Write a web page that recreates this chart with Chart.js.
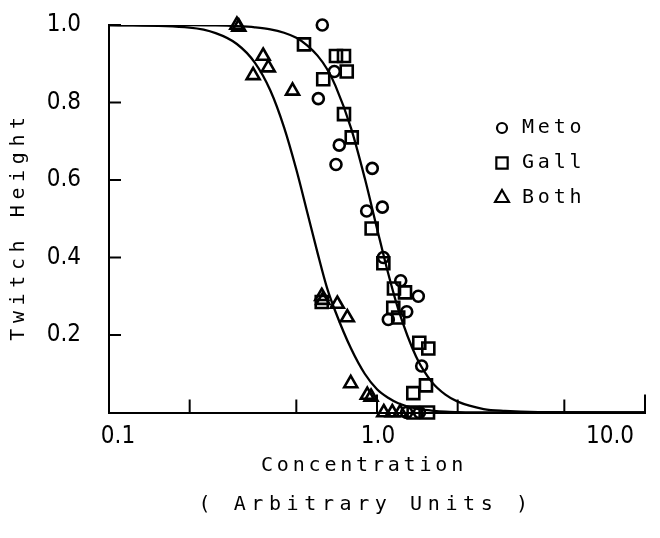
<!DOCTYPE html>
<html>
<head>
<meta charset="utf-8">
<script src="https://cdn.jsdelivr.net/npm/chart.js@4.4.0/dist/chart.umd.min.js"></script>
<style>
  html, body { margin: 0; padding: 0; background: #fff; }
</style>
</head>
<body>
<canvas id="chart" width="660" height="538"></canvas>
<script>
// Meto (circles)
const metoX = [0.625, 0.693, 0.604, 0.723, 0.703, 0.960, 0.915, 1.047, 1.056, 1.226, 1.426, 1.291, 1.102, 1.468, 1.29, 1.44];
const metoY = [1.00, 0.88, 0.81, 0.69, 0.64, 0.63, 0.52, 0.53, 0.40, 0.34, 0.30, 0.26, 0.24, 0.12, 0.0, 0.0];

// Gall (squares)
const gallX = [0.534, 0.703, 0.753, 0.771, 0.630, 0.753, 0.805, 0.955, 1.056, 1.157, 1.272, 1.15, 1.20, 1.438, 1.554, 1.523, 1.366, 0.622, 1.37, 1.55];
const gallY = [0.95, 0.92, 0.92, 0.88, 0.86, 0.77, 0.71, 0.475, 0.385, 0.32, 0.31, 0.27, 0.245, 0.18, 0.165, 0.07, 0.05, 0.285, 0.0, 0.0];

// Both (triangles)
const bothX = [0.30, 0.305, 0.376, 0.393, 0.345, 0.484, 0.622, 0.628, 0.711, 0.775, 0.798, 0.92, 0.95, 1.06, 1.14, 1.22];
const bothY = [1.0, 0.995, 0.92, 0.89, 0.87, 0.83, 0.30, 0.29, 0.28, 0.245, 0.075, 0.045, 0.04, 0.0, 0.0, 0.0];

// fitted curves
const curveX = [0.1, 0.2, 0.25, 0.3, 0.35, 0.4, 0.45, 0.5, 0.55, 0.6, 0.65, 0.7, 0.8, 0.9, 1.0, 1.1, 1.2, 1.4, 1.6, 1.8, 2.0, 2.5, 3, 4, 10];
const bothCurveY = [1.0, 0.993, 0.979, 0.951, 0.903, 0.831, 0.736, 0.627, 0.515, 0.412, 0.323, 0.26, 0.165, 0.10, 0.06, 0.038, 0.024, 0.01, 0.005, 0.002, 0.001, 0, 0, 0, 0];
const singleCurveY = [1.0, 1.0, 0.999, 0.997, 0.994, 0.989, 0.980, 0.967, 0.947, 0.921, 0.887, 0.843, 0.734, 0.605, 0.475, 0.360, 0.267, 0.144, 0.079, 0.046, 0.028, 0.009, 0.004, 0.001, 0];

// axis ticks
const xTickMarks = [0.2, 0.5, 1, 2, 5, 10];
const xTickLabels = ['0.1', '1.0', '10.0'];
const xTickLabelValues = [0.1, 1, 10];
const yTickValues = [0.2, 0.4, 0.6, 0.8, 1.0];
const yTickLabels = ['0.2', '0.4', '0.6', '0.8', '1.0'];

const legendNames = ['Meto', 'Gall', 'Both'];
const legendStyles = ['circle', 'rect', 'triangle'];

const toPoints = (xs, ys) => xs.map((x, i) => ({ x: x, y: ys[i] }));

const markerBase = {
    type: 'scatter',
    borderColor: '#000',
    backgroundColor: 'rgba(0,0,0,0)',
    borderWidth: 2.6,
    clip: false
};

// draws inward ticks, labels, titles and the legend
const decorations = {
    id: 'decorations',
    afterDraw(chart) {
        const ctx = chart.ctx;
        const xs = chart.scales.x;
        const ys = chart.scales.y;
        const area = chart.chartArea;
        ctx.save();
        ctx.strokeStyle = '#000';
        ctx.fillStyle = '#000';
        ctx.lineWidth = 2;

        // y ticks
        yTickValues.forEach(v => {
            const py = ys.getPixelForValue(v);
            ctx.beginPath();
            ctx.moveTo(area.left, py);
            ctx.lineTo(area.left + 12, py);
            ctx.stroke();
        });
        ctx.font = '24px "DejaVu Sans Condensed", "DejaVu Sans", sans-serif';
        ctx.textAlign = 'right';
        ctx.textBaseline = 'middle';
        yTickValues.forEach((v, i) => {
            ctx.fillText(yTickLabels[i], area.left - 28, ys.getPixelForValue(v));
        });

        // x ticks
        xTickMarks.forEach(v => {
            const px = xs.getPixelForValue(v);
            const len = (v === 1 || v === 10) ? 18 : 13;
            ctx.beginPath();
            ctx.moveTo(px, area.bottom);
            ctx.lineTo(px, area.bottom - len);
            ctx.stroke();
        });
        ctx.textAlign = 'center';
        ctx.textBaseline = 'middle';
        const labelShift = [9, 1, -35];
        xTickLabelValues.forEach((v, i) => {
            ctx.fillText(xTickLabels[i], xs.getPixelForValue(v) + labelShift[i], area.bottom + 24);
        });

        // axis titles
        ctx.font = '20px "DejaVu Sans Mono", monospace';
        ctx.textAlign = 'center';
        ctx.letterSpacing = '3.8px';
        ctx.fillText('Concentration', 364, 466);
        ctx.letterSpacing = '5.6px';
        ctx.fillText('( Arbitrary Units )', 366, 505);
        ctx.save();
        ctx.translate(19, 226);
        ctx.rotate(-Math.PI / 2);
        ctx.letterSpacing = '5.6px';
        ctx.fillText('Twitch Height', 0, 0);
        ctx.restore();

        // legend
        ctx.letterSpacing = '3.8px';
        ctx.textAlign = 'left';
        ctx.lineWidth = 2.2;
        legendNames.forEach((name, i) => {
            const ly = 128 + i * 35;
            ctx.fillStyle = 'rgba(0,0,0,0)';
            Chart.helpers.drawPoint(ctx, {
                pointStyle: legendStyles[i],
                radius: legendStyles[i] === 'circle' ? 5 : 8,
                borderWidth: 2.2,
                rotation: 0
            }, 502, ly);
            ctx.fillStyle = '#000';
            ctx.fillText(name, 522, ly);
        });
        ctx.restore();
    }
};

new Chart(document.getElementById('chart'), {
    data: {
        datasets: [
            {
                type: 'line',
                label: 'Both fit',
                data: toPoints(curveX, bothCurveY),
                borderColor: '#000',
                borderWidth: 2.3,
                pointRadius: 0,
                cubicInterpolationMode: 'monotone',
                fill: false
            },
            {
                type: 'line',
                label: 'Single fit',
                data: toPoints(curveX, singleCurveY),
                borderColor: '#000',
                borderWidth: 2.3,
                pointRadius: 0,
                cubicInterpolationMode: 'monotone',
                fill: false
            },
            Object.assign({}, markerBase, {
                label: 'Meto',
                data: toPoints(metoX, metoY),
                pointStyle: 'circle',
                pointRadius: 5.5
            }),
            Object.assign({}, markerBase, {
                label: 'Gall',
                data: toPoints(gallX, gallY),
                pointStyle: 'rect',
                pointRadius: 8.5
            }),
            Object.assign({}, markerBase, {
                label: 'Both',
                data: toPoints(bothX, bothY),
                pointStyle: 'triangle',
                pointRadius: 7.5
            })
        ]
    },
    options: {
        responsive: false,
        animation: false,
        devicePixelRatio: 1,
        layout: { padding: { left: 101, top: 25, right: 15, bottom: 117.5 } },
        plugins: {
            legend: { display: false },
            tooltip: { enabled: false }
        },
        scales: {
            x: {
                type: 'logarithmic',
                min: 0.1,
                max: 10,
                ticks: { display: false },
                grid: { display: false },
                border: { display: true, color: '#000', width: 2 }
            },
            y: {
                type: 'linear',
                min: 0,
                max: 1,
                ticks: { display: false },
                grid: { display: false },
                border: { display: true, color: '#000', width: 2 }
            }
        }
    },
    plugins: [decorations]
});
</script>
</body>
</html>
